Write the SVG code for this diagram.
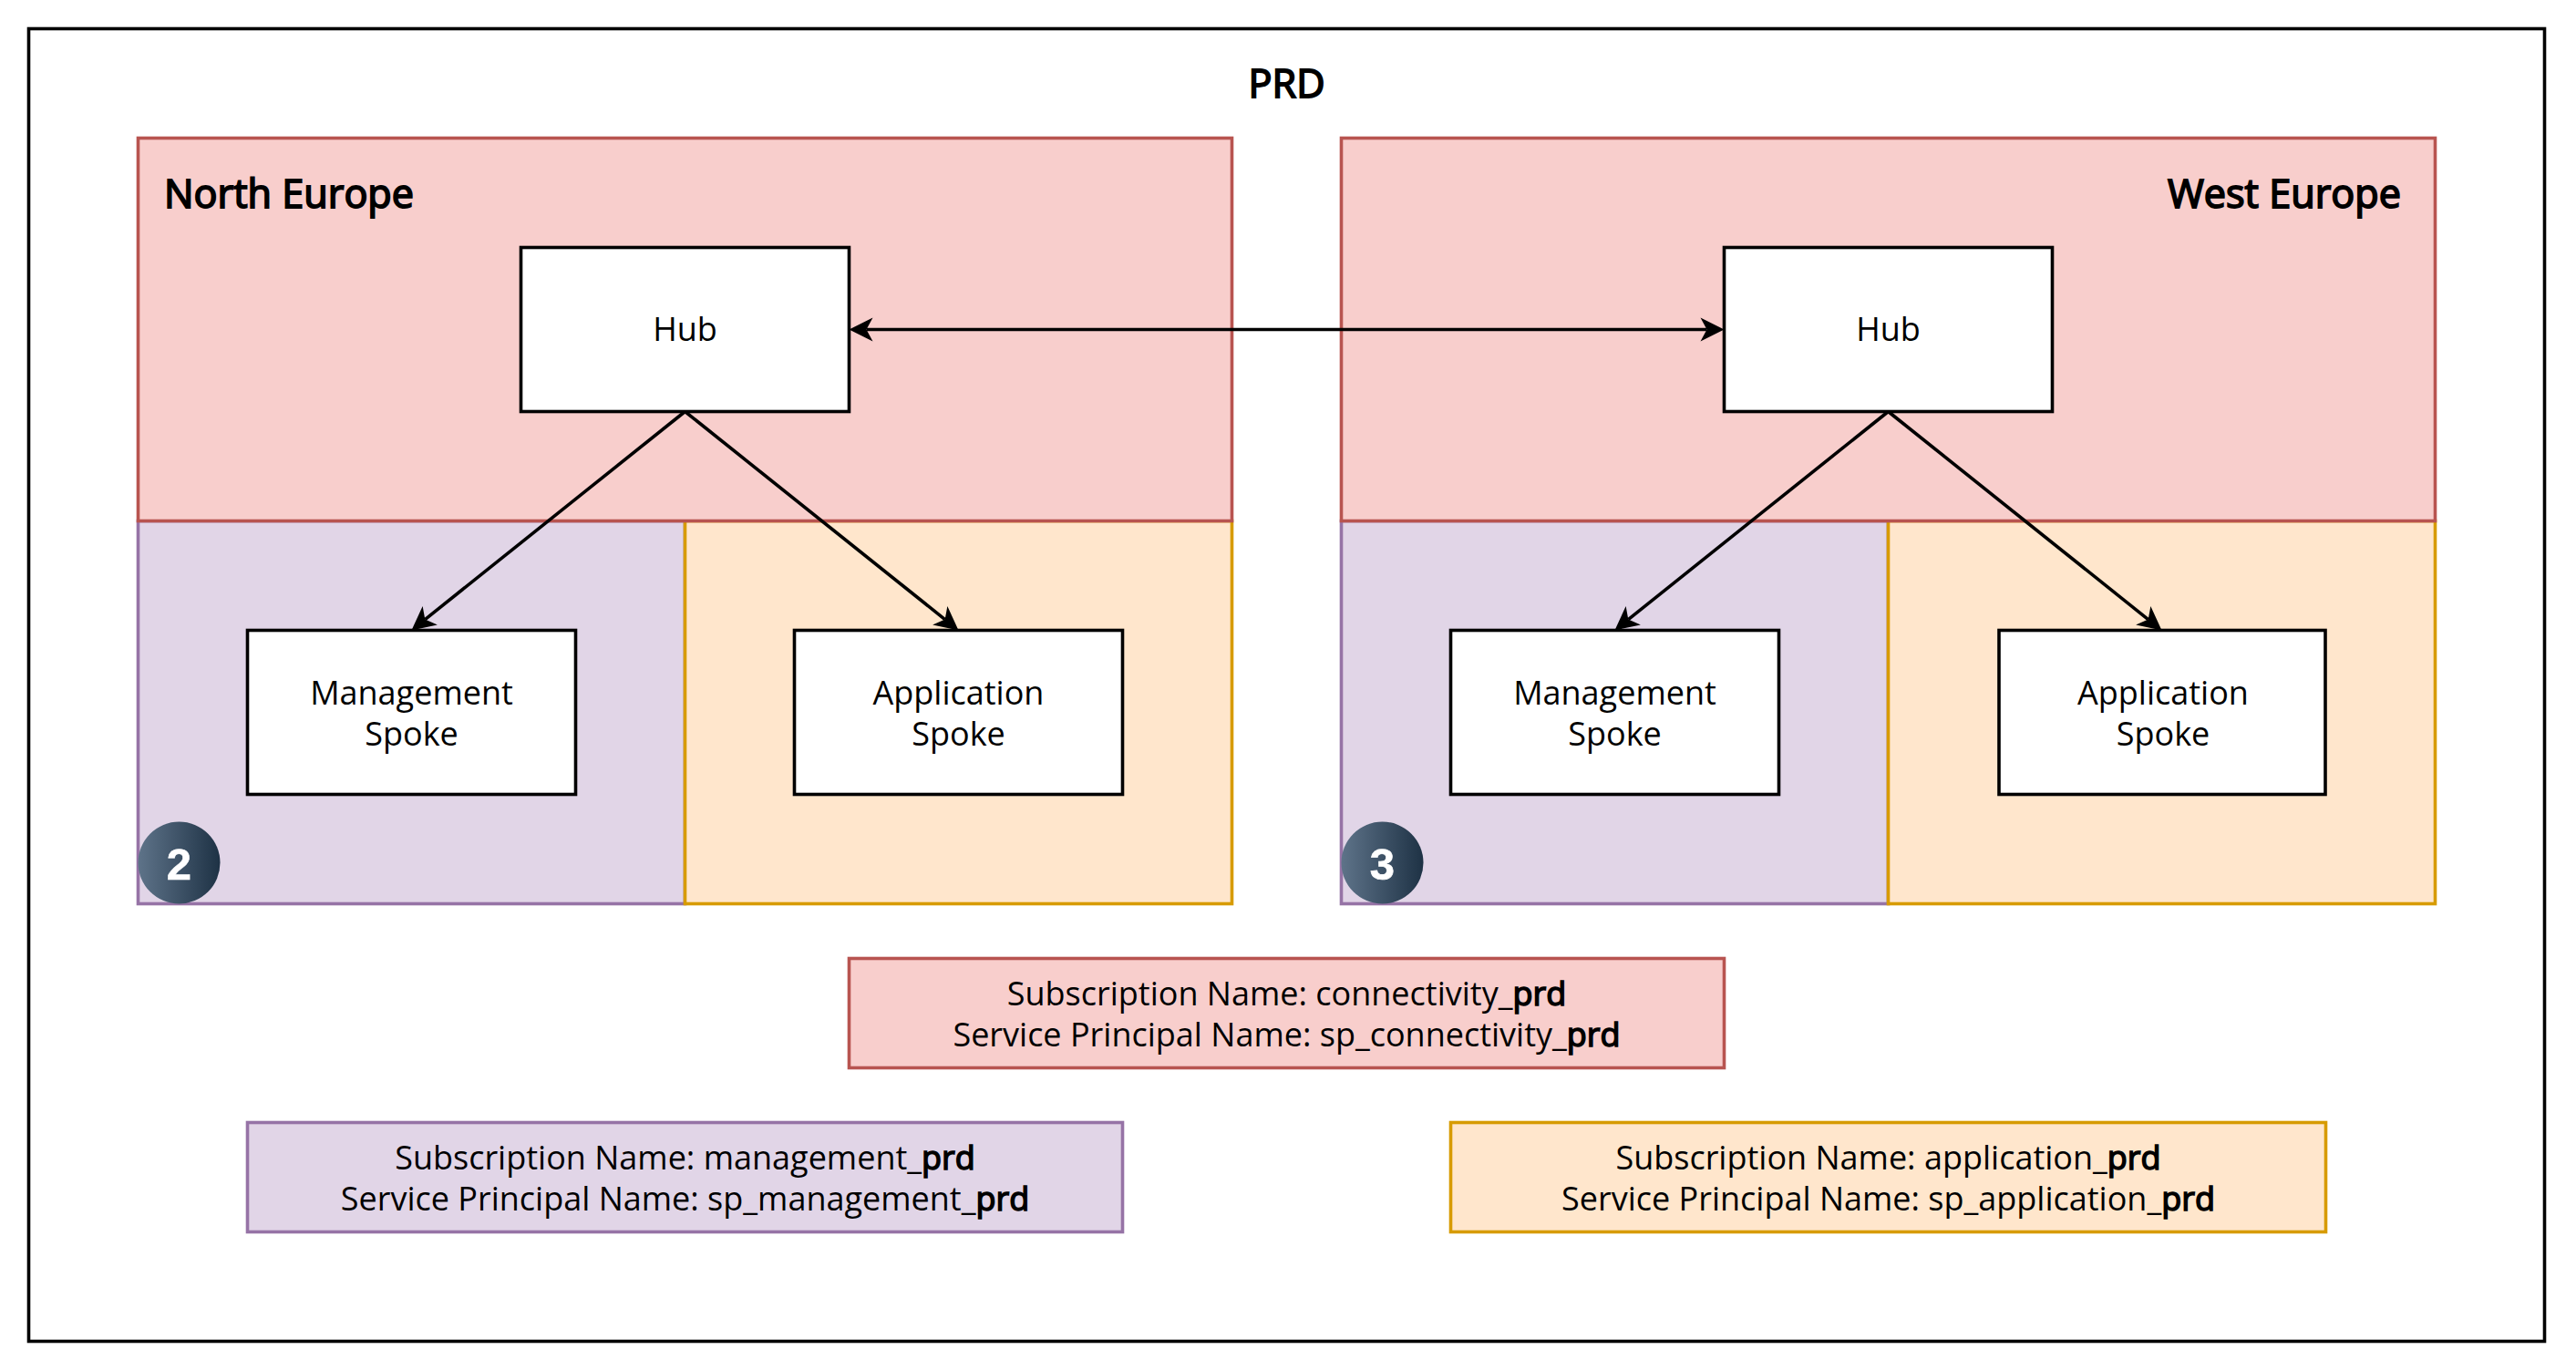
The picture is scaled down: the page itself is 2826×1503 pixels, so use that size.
<svg xmlns="http://www.w3.org/2000/svg" width="2826" height="1503" viewBox="0 0 2826 1503">
<style>
text{font-family:"Open Sans","Noto Sans",sans-serif;font-size:36px;fill:#000;text-anchor:middle}
.b{stroke:#000;stroke-width:1.5px}
.t{font-size:43.2px;stroke:#000;stroke-width:1.8px}
.box{fill:#fff;stroke:#000;stroke-width:3.6}
.red{fill:#f8cecc;stroke:#b85450;stroke-width:3.6}
.pur{fill:#e1d5e7;stroke:#9673a6;stroke-width:3.6}
.ora{fill:#ffe6cc;stroke:#d79b00;stroke-width:3.6}
.c{fill:none;stroke:#000;stroke-width:3.6}
.n{font-family:"Liberation Sans",Arial,sans-serif;font-weight:700;font-size:49px;fill:#fff;stroke:#fff;stroke-width:.6px}
</style>
<defs>
<marker id="arrow" markerUnits="userSpaceOnUse" viewBox="-8 -14 28 28" refX="0" refY="0" markerWidth="28" markerHeight="28" orient="auto-start-reverse"><path d="M19,0 L-7,-13 L0,0 L-7,13 Z" fill="#000"/></marker>
<linearGradient id="g" x1="0" y1="0" x2="1" y2="0"><stop offset="0" stop-color="#5e7389"/><stop offset="1" stop-color="#1e3245"/></linearGradient>
</defs>
<rect width="2826" height="1503" fill="#fff"/>
<g id="frame"><rect x="31.5" y="31.5" width="2760" height="1440" fill="#fff" stroke="#000" stroke-width="3.6"/><text class="t" x="1411.5" y="107">PRD</text></g>
<g id="north-management"><rect class="pur" x="151.5" y="571.5" width="600" height="420"/></g>
<g id="north-application"><rect class="ora" x="751.5" y="571.5" width="600" height="420"/></g>
<g id="north-connectivity"><rect class="red" x="151.5" y="151.5" width="1200" height="420"/><text class="t" x="180" y="227.5" style="text-anchor:start">North Europe</text></g>
<g id="west-management"><rect class="pur" x="1471.5" y="571.5" width="600" height="420"/></g>
<g id="west-application"><rect class="ora" x="2071.5" y="571.5" width="600" height="420"/></g>
<g id="west-connectivity"><rect class="red" x="1471.5" y="151.5" width="1200" height="420"/><text class="t" x="2634" y="227.5" style="text-anchor:end">West Europe</text></g>
<g id="connectors">
<path class="c" d="M950.5,361.5H1872.5" marker-start="url(#arrow)" marker-end="url(#arrow)"/>
<path class="c" d="M751.5,451.5L466.3,679.6" marker-end="url(#arrow)"/>
<path class="c" d="M751.5,451.5L1036.7,679.6" marker-end="url(#arrow)"/>
<path class="c" d="M2071.5,451.5L1786.3,679.6" marker-end="url(#arrow)"/>
<path class="c" d="M2071.5,451.5L2356.7,679.6" marker-end="url(#arrow)"/>
</g>
<g id="north-hub"><rect class="box" x="571.5" y="271.5" width="360" height="180"/><text x="751.5" y="374">Hub</text></g>
<g id="north-mgmt-spoke"><rect class="box" x="271.5" y="691.5" width="360" height="180"/><text x="451.5" y="773">Management</text><text x="451.5" y="818">Spoke</text></g>
<g id="north-app-spoke"><rect class="box" x="871.5" y="691.5" width="360" height="180"/><text x="1051.5" y="773">Application</text><text x="1051.5" y="818">Spoke</text></g>
<g id="west-hub"><rect class="box" x="1891.5" y="271.5" width="360" height="180"/><text x="2071.5" y="374">Hub</text></g>
<g id="west-mgmt-spoke"><rect class="box" x="1591.5" y="691.5" width="360" height="180"/><text x="1771.5" y="773">Management</text><text x="1771.5" y="818">Spoke</text></g>
<g id="west-app-spoke"><rect class="box" x="2193" y="691.5" width="358" height="180"/><text x="2373" y="773">Application</text><text x="2373" y="818">Spoke</text></g>
<g id="badge-2"><circle cx="196.5" cy="946.5" r="45" fill="url(#g)"/><text class="n" x="196.5" y="964.5">2</text></g>
<g id="badge-3"><circle cx="1516.5" cy="946.5" r="45" fill="url(#g)"/><text class="n" x="1516.5" y="964.5">3</text></g>
<g id="legend-connectivity"><rect class="red" x="931.5" y="1051.5" width="960" height="120"/><text x="1411.5" y="1103">Subscription Name: connectivity_<tspan class="b">prd</tspan></text><text x="1411.5" y="1148">Service Principal Name: sp_connectivity_<tspan class="b">prd</tspan></text></g>
<g id="legend-management"><rect class="pur" x="271.5" y="1231.5" width="960" height="120"/><text x="751.5" y="1283">Subscription Name: management_<tspan class="b">prd</tspan></text><text x="751.5" y="1328">Service Principal Name: sp_management_<tspan class="b">prd</tspan></text></g>
<g id="legend-application"><rect class="ora" x="1591.5" y="1231.5" width="960" height="120"/><text x="2071.5" y="1283">Subscription Name: application_<tspan class="b">prd</tspan></text><text x="2071.5" y="1328">Service Principal Name: sp_application_<tspan class="b">prd</tspan></text></g>
</svg>
